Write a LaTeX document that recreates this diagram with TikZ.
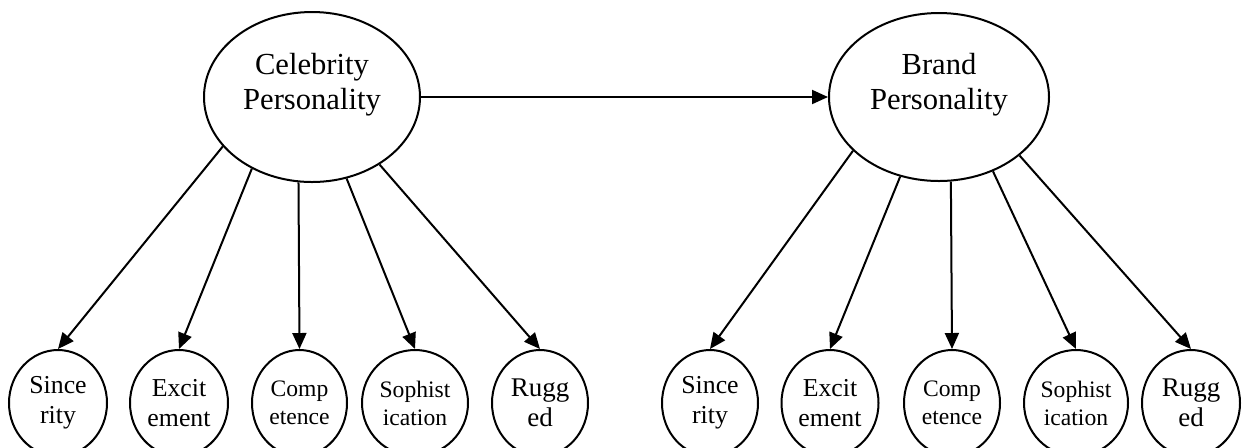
\documentclass[tikz,border=0pt]{standalone}
\usepackage{fontspec}
\setmainfont{Liberation Serif}
\usetikzlibrary{arrows.meta,shapes.geometric}
\begin{document}
\begin{tikzpicture}[x=0.5pt,y=-0.5pt,
  big/.style={draw, ellipse, line width=1pt, inner sep=1pt,
    font=\fontsize{15.3pt}{17.5pt}\selectfont},
  trait/.style={draw, ellipse, line width=1pt, inner sep=0.5pt, align=center,
    minimum width=49pt, minimum height=53pt},
  fA/.style={font=\fontsize{12.9pt}{15pt}\selectfont},
  fB/.style={font=\fontsize{11.8pt}{14pt}\selectfont},
  fC/.style={font=\fontsize{13.5pt}{15pt}\selectfont},
  link/.style={line width=1pt, -{Triangle[length=8pt,width=7pt]}}
]
\useasboundingbox (0,0) rectangle (1247,447);

% upper ellipses
\node[big, minimum width=108pt, minimum height=85pt] (cel) at (312,97)
  {\raisebox{6pt}[\height][\depth]{\begin{tabular}{@{}c@{}}Celebrity\\Personality\end{tabular}}};
\node[big, minimum width=110pt, minimum height=84pt] (brd) at (939,97)
  {\raisebox{6pt}[\height][\depth]{\begin{tabular}{@{}c@{}}Brand\\Personality\end{tabular}}};

% left traits
\node[trait, fA, minimum width=49pt] (ls) at (58,403) {Since\\rity};
\node[trait, fA, minimum width=49pt] (le) at (179,403) {Excit\\ement};
\node[trait, fB, minimum width=47.5pt] (lc) at (299.5,403) {Comp\\etence};
\node[trait, fB, minimum width=53pt] (lp) at (415,403) {Sophist\\ication};
\node[trait, fC, minimum width=48pt] (lr) at (540,403) {Rugg\\ed};

% right traits
\node[trait, fA, minimum width=48pt] (rs) at (710,403) {Since\\rity};
\node[trait, fA, minimum width=48.5pt] (re) at (830,403) {Excit\\ement};
\node[trait, fB, minimum width=48pt] (rc) at (952,403) {Comp\\etence};
\node[trait, fB, minimum width=52pt] (rp) at (1076,403) {Sophist\\ication};
\node[trait, fC, minimum width=49pt] (rr) at (1191,403) {Rugg\\ed};

% connectors
\draw[link] (cel.east) -- (brd.west);

\draw[link] (cel.209) -- (ls.north);
\draw[link] (cel.230) -- (le.north);
\draw[link] (cel.261) -- (lc.north);
\draw[link] (cel.293.5) -- (lp.north);
\draw[link] (cel.315.4) -- (lr.north);

\draw[link] (brd.212.6) -- (rs.north);
\draw[link] (brd.244) -- (re.north);
\draw[link] (brd.278.8) -- (rc.north);
\draw[link] (brd.306.7) -- (rp.north);
\draw[link] (brd.324.5) -- (rr.north);
\end{tikzpicture}
\end{document}
